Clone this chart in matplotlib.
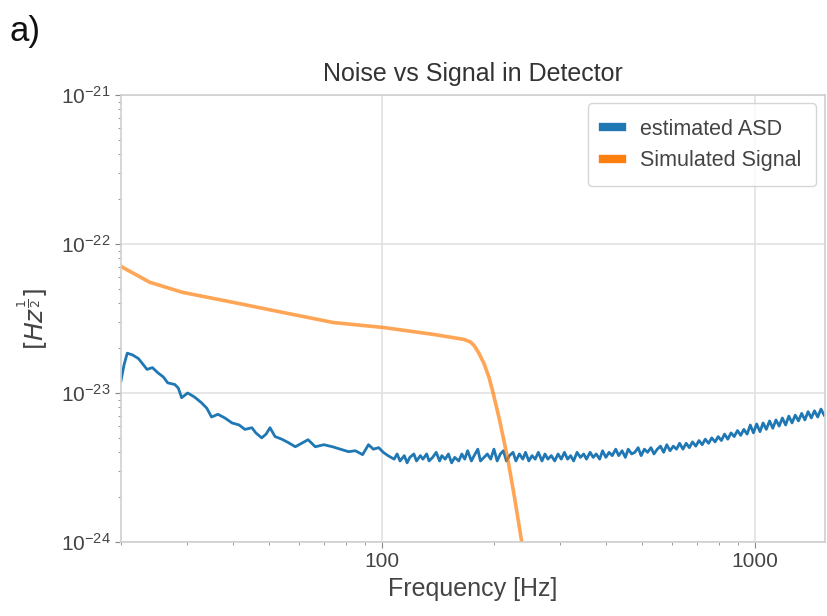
import matplotlib
matplotlib.use("Agg")
import matplotlib.pyplot as plt
import numpy as np

plt.rcParams["font.family"] = ["Liberation Sans", "DejaVu Sans"]
plt.rcParams["mathtext.fontset"] = "dejavusans"

# simulated signal (orange), values in strain / sqrt(Hz)
sig_freq = [20.0, 20.2, 23.9, 29.3, 39.9, 54.4, 74.2, 101.2, 138.0, 166.0,
            173.0, 177.0, 182.0, 188.0, 194.0, 199.0, 207.0, 218.0, 227.0,
            237.0, 245.0]
sig_amp = [7.1e-23, 6.97e-23, 5.53e-23, 4.73e-23, 4.06e-23, 3.47e-23, 2.97e-23,
           2.75e-23, 2.47e-23, 2.29e-23, 2.2e-23, 2.08e-23, 1.86e-23, 1.58e-23,
           1.27e-23, 1.0e-23, 6.6e-24, 3.56e-24, 2.0e-24, 1.03e-24, 6.5e-25]

# estimated ASD (blue), low frequency part, units of 1e-24
asd_freq_lo = [20.0, 20.4, 20.8, 21.5, 22.3, 23.5, 24.3, 25.1, 26.0, 26.7,
               27.9, 28.5, 29.1, 30.2, 31.5, 32.9, 34.0, 35.0, 36.4, 38.0,
               39.7, 41.5, 43.0, 44.9, 46.0, 47.7, 49.0, 50.2, 51.8, 54.0,
               56.2, 58.7, 61.0, 63.5, 66.4, 70.0, 73.8, 77.5, 81.5, 85.0,
               88.9, 92.2, 95.0, 98.2, 101.0, 104.0]
asd_lo = [12.0, 15.5, 18.5, 18.0, 17.0, 14.4, 14.8, 13.7, 12.8, 11.7,
          11.4, 10.8, 9.3, 10.0, 9.4, 8.6, 7.9, 6.9, 7.2, 6.8,
          6.3, 6.1, 5.7, 5.85, 5.4, 5.0, 5.3, 5.85, 5.1, 4.9,
          4.65, 4.36, 4.6, 4.86, 4.36, 4.5, 4.36, 4.2, 4.04, 4.1,
          3.86, 4.5, 4.2, 4.3, 4.0, 3.8]

# estimated ASD, high frequency noisy band, units of 1e-24
asd_freq_hi = [108, 110, 112, 115, 117, 119, 122, 124, 127, 129,
               132, 134, 137, 140, 143, 145, 148, 151, 154, 157,
               161, 164, 167, 170, 174, 177, 181, 184, 188, 192,
               196, 200, 204, 208, 212, 216, 220, 225, 229, 234,
               239, 243, 248, 253, 258, 263, 269, 274, 279, 285,
               291, 297, 303, 309, 315, 321, 327, 334, 341, 348,
               354, 362, 369, 376, 384, 391, 399, 407, 415, 424,
               432, 441, 450, 458, 468, 477, 487, 496, 506, 516,
               527, 537, 548, 559, 570, 581, 593, 605, 617, 629,
               642, 655, 668, 681, 695, 709, 723, 737, 752, 767,
               783, 798, 814, 830, 847, 864, 881, 899, 917, 935,
               954, 973, 992, 1012, 1033, 1053, 1074, 1096, 1118, 1140,
               1163, 1186, 1210, 1234, 1259, 1284, 1310, 1336, 1363, 1390,
               1418, 1446, 1475, 1505, 1535]
asd_hi = [3.6, 3.9, 3.5, 3.8, 3.4, 3.7, 3.9, 3.5, 3.8, 3.6,
          3.9, 3.5, 3.7, 4.0, 3.5, 3.8, 3.6, 3.9, 3.4, 3.7,
          3.5, 3.9, 3.6, 4.1, 3.5, 3.8, 4.2, 3.5, 3.7, 3.9,
          3.6, 4.2, 3.5, 3.9, 4.1, 3.5, 3.8, 4.0, 3.5, 3.9,
          3.6, 4.0, 3.5, 3.8, 3.6, 4.0, 3.5, 3.9, 3.6, 3.8,
          3.5, 3.9, 3.6, 4.0, 3.6, 3.8, 3.5, 4.0, 3.7, 3.9,
          3.6, 4.0, 3.7, 3.9, 3.6, 4.1, 3.7, 4.0, 3.8, 4.2,
          3.8, 4.1, 3.7, 4.2, 3.9, 4.0, 4.3, 3.8, 4.2, 4.0,
          4.3, 3.9, 4.2, 4.4, 4.0, 4.5, 4.1, 4.4, 4.2, 4.6,
          4.2, 4.6, 4.3, 4.7, 4.4, 4.8, 4.5, 4.9, 4.6, 5.0,
          4.7, 5.1, 4.8, 5.3, 4.9, 5.4, 5.1, 5.6, 5.2, 5.7,
          5.3, 6.1, 5.4, 6.2, 5.5, 6.3, 5.7, 6.5, 5.8, 6.6,
          6.0, 6.8, 6.1, 7.0, 6.3, 7.1, 6.5, 7.3, 6.6, 7.5,
          6.8, 7.6, 6.9, 7.8, 7.1]

asd_freq = np.array(asd_freq_lo + asd_freq_hi, dtype=float)
asd = np.array(asd_lo + asd_hi) * 1e-24

fig = plt.figure(figsize=(8.28, 6.16), dpi=100)
ax = fig.add_axes([0.146, 0.12, 0.85, 0.726])

ax.loglog(asd_freq, asd, color="#1f77b4", lw=2.0, label="estimated ASD")
ax.loglog(sig_freq, sig_amp, color="#ff7f0e", lw=2.6, alpha=0.7,
          label="Simulated Signal")

ax.set_xlim(20, 1540)
ax.set_ylim(1e-24, 1e-21)

ax.grid(True, which="major", color="#e2e2e2", lw=1.2)
ax.set_axisbelow(True)
for s in ax.spines.values():
    s.set_color("#cfcfcf")
    s.set_linewidth(1.2)
ax.tick_params(which="both", colors="#888888", labelcolor="#444444",
               labelsize=15, direction="out")
ax.tick_params(which="major", length=4)
ax.tick_params(which="minor", length=2.5)
ax.set_xticks([100, 1000])
ax.set_xticklabels(["100", "1000"])

ax.set_title("Noise vs Signal in Detector", fontsize=18, color="#333333", pad=10)
ax.set_xlabel("Frequency [Hz]", fontsize=18, color="#444444", labelpad=4)
ax.set_ylabel(r"$[Hz^{\frac{1}{2}}]$", fontsize=18, color="#444444", labelpad=8)

leg = ax.legend(loc="upper right", fontsize=15.5, handlelength=0.9,
                borderaxespad=0.4, frameon=True, fancybox=True,
                labelcolor="#444444", borderpad=0.7)
leg.get_frame().set_edgecolor("#cccccc")
for line in leg.get_lines():
    line.set_linewidth(6)
    line.set_alpha(1)

fig.text(0.012, 0.975, "a)", fontsize=25, va="top", ha="left", color="#111111")

fig.savefig("out.png", dpi=100)
